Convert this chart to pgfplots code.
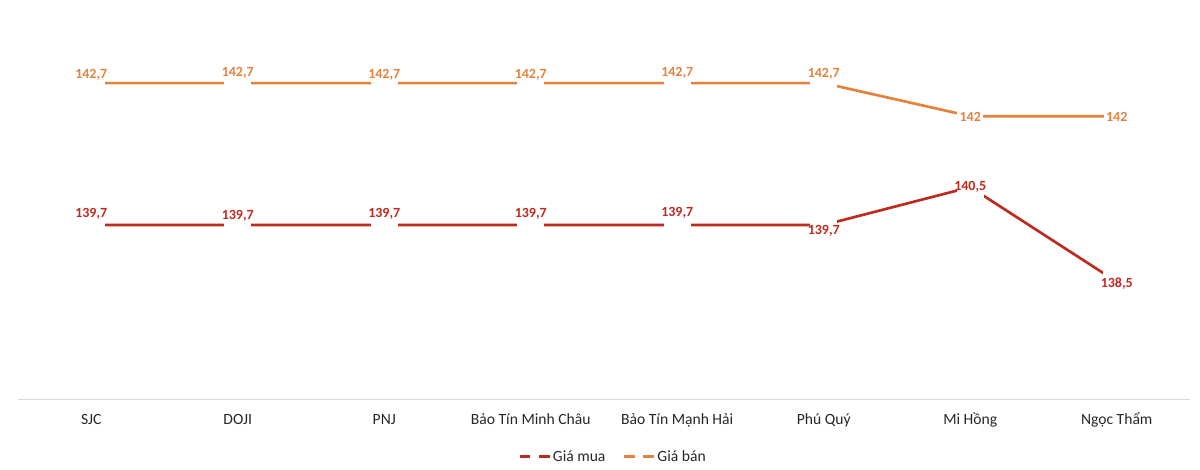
\documentclass[border=0pt]{standalone}
\usepackage{fontspec}
\setmainfont{Carlito}
\usepackage{pgfplots}
\pgfplotsset{compat=1.18}
\definecolor{mua}{HTML}{BF2A1F}
\definecolor{ban}{HTML}{E5813B}
\definecolor{txt}{HTML}{262626}

\pgfplotstableread{
x y dy lab
0 139.7 8 139,7
1 139.7 6.75 139,7
2 139.7 8 139,7
3 139.7 8 139,7
4 139.7 9 139,7
5 139.7 -4.5 139,7
6 140.5 0 140,5
7 138.5 -1.5 138,5
}\mua

\pgfplotstableread{
x y dy lab
0 142.7 6 142,7
1 142.7 7.5 142,7
2 142.7 6.5 142,7
3 142.7 6.5 142,7
4 142.7 8 142,7
5 142.7 6.75 142,7
6 142 -0.75 142
7 142 -0.75 142
}\ban

\begin{document}
\begin{tikzpicture}
\path[use as bounding box] (-13.5pt,-52.5pt) rectangle (886.5pt,300pt);
\begin{axis}[
  at={(0pt,0pt)}, anchor=south west,
  scale only axis, width=879pt, height=283.8pt,
  xmin=-0.5, xmax=7.5, ymin=136, ymax=144,
  axis x line*=bottom, axis y line=none,
  x axis line style={draw=black!15, line width=0.75pt},
  xtick={0,...,7},
  xticklabels={SJC,DOJI,PNJ,Bảo Tín Minh Châu,Bảo Tín Mạnh Hải,Phú Quý,Mi Hồng,Ngọc Thẩm},
  major tick length=0pt,
  xticklabel style={font=\fontsize{11.7}{13}\selectfont, text=txt, anchor=base, yshift=-18.75pt},
  ytick=\empty,
  clip=false,
  nodes near coords,
  point meta=explicit symbolic,
  visualization depends on={\thisrow{dy}\as\dy},
  every node near coord/.append style={anchor=center, yshift=\dy pt, fill=white, inner xsep=-2pt, inner ysep=7pt, minimum width=19.5pt, font=\fontsize{10.5}{12}\selectfont\bfseries},
  legend style={at={(0.5,0)}, anchor=center, yshift=-42.5pt, xshift=6.5pt, draw=none, fill=none,
    font=\fontsize{11.7}{13}\selectfont, text=txt, nodes={inner sep=1pt},
    /tikz/every even column/.append style={column sep=12pt}},
  legend columns=2,
  legend image code/.code={\draw[#1, dash pattern=on 8pt off 6.5pt] (0pt,0pt) -- (23pt,0pt);},
]
\addplot[mua, line width=2pt, every node near coord/.append style={text=mua}] table[x=x, y=y, meta=lab]{\mua};
\addlegendentry{Giá mua}
\addplot[ban, line width=2pt, every node near coord/.append style={text=ban}] table[x=x, y=y, meta=lab]{\ban};
\addlegendentry{Giá bán}
\end{axis}
\end{tikzpicture}
\end{document}
